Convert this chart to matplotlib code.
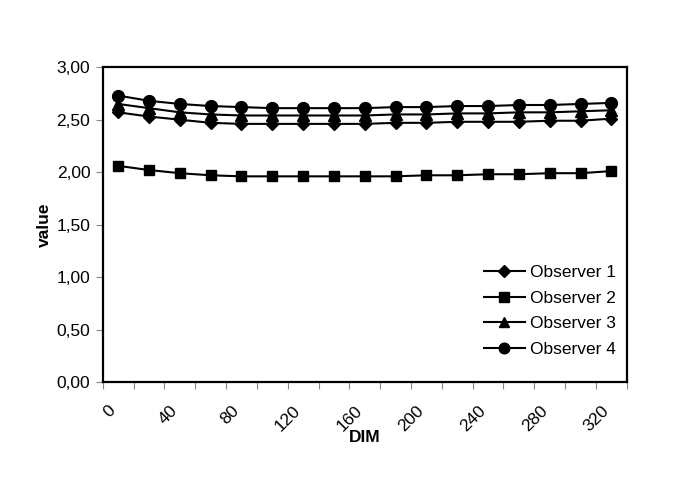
import numpy as np
import matplotlib
matplotlib.use('Agg')
import matplotlib.pyplot as plt
import matplotlib.transforms as mtransforms
from matplotlib.ticker import MultipleLocator, FuncFormatter

plt.rcParams['font.family'] = ['Liberation Sans', 'DejaVu Sans']

dim = [10, 30, 50, 70, 90, 110, 130, 150, 170, 190, 210, 230, 250, 270, 290, 310, 330]
observer1 = [2.57, 2.53, 2.50, 2.47, 2.46, 2.46, 2.46, 2.46, 2.46, 2.47, 2.47, 2.48, 2.48, 2.48, 2.49, 2.49, 2.51]
observer2 = [2.06, 2.02, 1.99, 1.97, 1.96, 1.96, 1.96, 1.96, 1.96, 1.96, 1.97, 1.97, 1.98, 1.98, 1.99, 1.99, 2.01]
observer3 = [2.65, 2.61, 2.57, 2.55, 2.54, 2.54, 2.54, 2.54, 2.54, 2.55, 2.55, 2.56, 2.56, 2.57, 2.57, 2.58, 2.59]
observer4 = [2.73, 2.68, 2.65, 2.63, 2.62, 2.61, 2.61, 2.61, 2.61, 2.62, 2.62, 2.63, 2.63, 2.64, 2.64, 2.65, 2.66]

series = [
    ('Observer 1', observer1, 'D', 6.5),
    ('Observer 2', observer2, 's', 7.5),
    ('Observer 3', observer3, '^', 8),
    ('Observer 4', observer4, 'o', 8.5),
]

fs = 12.5

fig = plt.figure(figsize=(6.85, 4.98), dpi=100)
ax = fig.add_axes([0.150, 0.233, 0.765, 0.632])

for name, vals, mk, ms in series:
    ax.plot(dim, vals, color='black', linewidth=1.5, marker=mk, markersize=ms,
            markerfacecolor='black', markeredgecolor='black', label=name)

ax.set_xlim(0, 340)
ax.set_ylim(0, 3.0)
ax.xaxis.set_major_locator(MultipleLocator(40))
ax.xaxis.set_minor_locator(MultipleLocator(20))
ax.yaxis.set_major_locator(MultipleLocator(0.5))
ax.yaxis.set_major_formatter(FuncFormatter(lambda v, p: f'{v:.2f}'.replace('.', ',')))

ax.tick_params(axis='both', which='both', direction='out', labelsize=fs, length=5,
               width=0.8, color='#888888')
ax.tick_params(axis='y', pad=4)
ax.tick_params(axis='x', pad=10)

# excel-style rotated labels: right end sits a little right of the tick
shift = mtransforms.ScaledTranslation(0.16, 0, fig.dpi_scale_trans)
for lbl in ax.get_xticklabels():
    lbl.set_rotation(45)
    lbl.set_ha('right')
    lbl.set_va('top')
    lbl.set_transform(lbl.get_transform() + shift)

for s in ax.spines.values():
    s.set_linewidth(1.6)
    s.set_color('black')

ax.set_xlabel('DIM', fontsize=fs, fontweight='bold', labelpad=-3)
ax.set_ylabel('value', fontsize=fs, fontweight='bold', labelpad=3)

leg = ax.legend(loc='lower right', bbox_to_anchor=(1.01, 0.03), frameon=False, fontsize=fs,
                handlelength=2.4, labelspacing=0.6, handletextpad=0.3, markerscale=0.9)

fig.savefig('out.png', dpi=100)
